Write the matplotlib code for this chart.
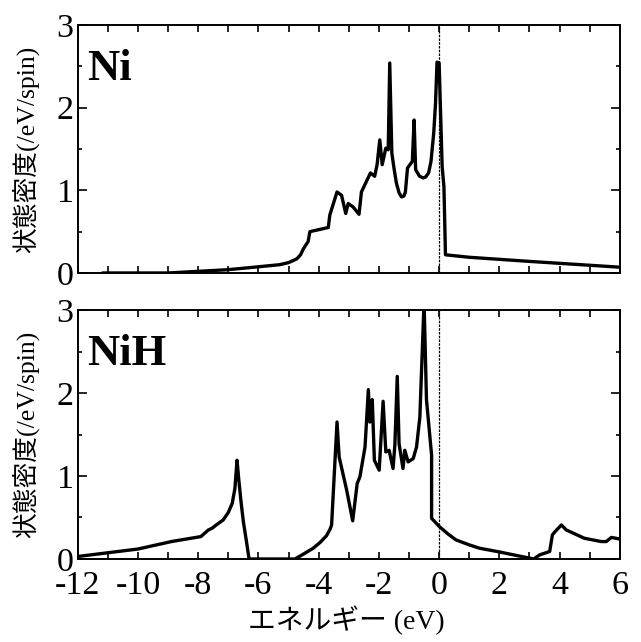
import matplotlib
matplotlib.use('Agg')
import matplotlib.pyplot as plt
from matplotlib.ticker import MultipleLocator

plt.rcParams['font.family'] = ['Liberation Serif', 'Noto Sans CJK JP']
plt.rcParams['axes.unicode_minus'] = False

# density of states, Ni (energy in eV, DOS in /eV/spin)
ni_e = [-11.15, -9.0, -7.0, -6.0, -5.3, -5.0, -4.73, -4.6, -4.51, -4.35, -4.29, -3.68, -3.63,
        -3.39, -3.24, -3.10, -3.02, -2.86, -2.66, -2.58, -2.28, -2.14, -2.06, -1.97, -1.89,
        -1.77, -1.69, -1.64, -1.57, -1.50, -1.42, -1.33, -1.25, -1.17, -1.12, -1.05, -0.89,
        -0.83, -0.78, -0.65, -0.53, -0.45, -0.35, -0.27, -0.18, -0.12, -0.07, 0.0, 0.10,
        0.16, 0.21, 1.0, 3.0, 6.0]
ni_dos = [0.0, 0.0, 0.04, 0.075, 0.10, 0.125, 0.17, 0.22, 0.29, 0.38, 0.50, 0.55, 0.70,
          0.98, 0.94, 0.72, 0.84, 0.80, 0.71, 0.98, 1.21, 1.17, 1.31, 1.61, 1.31,
          1.51, 1.49, 2.54, 1.45, 1.27, 1.09, 0.97, 0.92, 0.93, 0.98, 1.27, 1.35,
          1.85, 1.25, 1.17, 1.15, 1.16, 1.21, 1.35, 1.69, 2.05, 2.55, 2.54, 1.29,
          1.04, 0.22, 0.19, 0.14, 0.07]

# density of states, NiH
nih_e = [-12.0, -10.0, -8.89, -7.91, -7.66, -7.54, -7.4, -7.17, -7.0, -6.87, -6.78, -6.71,
         -6.65, -6.58, -6.50, -6.40, -6.31, -4.79, -4.5, -4.18, -3.95, -3.74, -3.62, -3.57,
         -3.39, -3.32, -3.07, -2.87, -2.72, -2.63, -2.46, -2.35, -2.30, -2.22, -2.15, -1.99,
         -1.86, -1.77, -1.66, -1.53, -1.47, -1.39, -1.33, -1.20, -1.14, -1.03, -0.86, -0.75,
         -0.64, -0.50, -0.42, -0.25, -0.25, 0.01, 0.3, 0.56, 1.0, 1.34, 2.0, 2.6, 3.14, 3.34,
         3.67, 3.76, 3.85, 4.06, 4.22, 4.82, 5.38, 5.55, 5.72, 6.0]
nih_dos = [0.03, 0.12, 0.21, 0.27, 0.35, 0.37, 0.41, 0.47, 0.56, 0.67, 0.85, 1.19,
           0.95, 0.70, 0.45, 0.22, 0.0, 0.0, 0.06, 0.13, 0.20, 0.28, 0.36, 0.41,
           1.65, 1.23, 0.83, 0.46, 0.91, 0.99, 1.35, 2.04, 1.65, 1.92, 1.19, 1.07,
           1.90, 1.29, 1.31, 1.09, 1.37, 2.20, 1.39, 1.09, 1.31, 1.17, 1.21, 1.35,
           1.71, 3.10, 1.92, 1.25, 0.49, 0.39, 0.30, 0.23, 0.17, 0.13, 0.085, 0.04, 0.0, 0.05,
           0.09, 0.29, 0.33, 0.41, 0.35, 0.25, 0.21, 0.21, 0.26, 0.24]

panels = [('Ni', ni_e, ni_dos), ('NiH', nih_e, nih_dos)]
ylabel = '状態密度(/eV/spin)'
xlabel = 'エネルギー (eV)'

fig = plt.figure(figsize=(6.41, 6.42), dpi=100)
rects = [[0.1212, 0.5748, 0.8458, 0.3863],
         [0.1212, 0.1293, 0.8458, 0.3878]]

for (name, e, dos), r in zip(panels, rects):
    ax = fig.add_axes(r)
    ax.plot(e, dos, color='black', lw=2.4)
    ax.axvline(0, color='black', lw=0.9, ls=(0, (2, 1)))
    ax.set_xlim(-12, 6)
    ax.set_ylim(0, 3)
    ax.xaxis.set_major_locator(MultipleLocator(2))
    ax.xaxis.set_minor_locator(MultipleLocator(1))
    ax.yaxis.set_major_locator(MultipleLocator(1))
    ax.yaxis.set_minor_locator(MultipleLocator(0.5))
    ax.tick_params(which='both', direction='in', top=True, right=True, width=1.2)
    ax.tick_params(axis='x', which='both', length=5)
    ax.tick_params(axis='y', which='major', length=6.5)
    ax.tick_params(axis='y', which='minor', length=3)
    ax.tick_params(axis='y', labelsize=24.5, pad=3)
    ax.tick_params(axis='x', labelsize=24.5, pad=8)
    for s in ax.spines.values():
        s.set_linewidth(1.4)
    ax.text(0.017, 0.78, name, transform=ax.transAxes, fontsize=32,
            fontweight='bold', ha='left', va='baseline')
    if name == 'Ni':
        ax.set_xticklabels([])
    fig.text(0.04, r[1] + r[3] / 2, ylabel, rotation=90, fontsize=18.5,
             ha='center', va='center')

fig.text(0.54, 0.034, xlabel, fontsize=20, ha='center', va='center')

fig.savefig('out.png', dpi=100)
